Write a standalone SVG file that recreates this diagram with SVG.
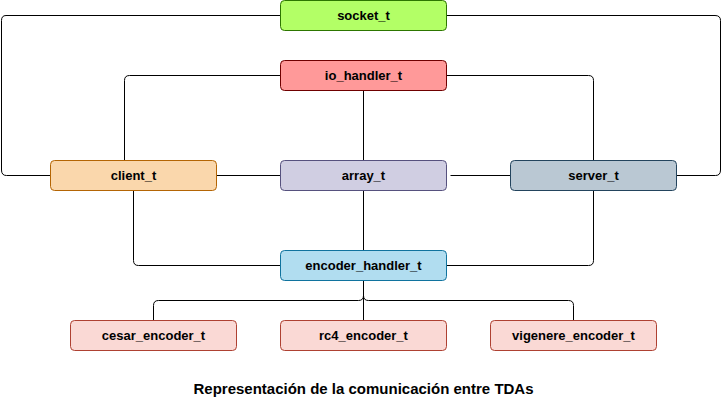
<svg xmlns="http://www.w3.org/2000/svg" width="722" height="411" viewBox="0 0 722 411">
<style>
.n rect{stroke-width:1}
.n text{font-family:"Liberation Sans",Arial,sans-serif;font-weight:bold;font-size:13px;text-anchor:middle;fill:#000}
#edges path{fill:none;stroke:#000;stroke-width:1}
.title{font-family:"Liberation Sans",Arial,sans-serif;font-weight:bold;font-size:15px;text-anchor:middle;fill:#000}
</style>
<rect width="722" height="411" fill="#fff"/>
<g id="edges">
<path d="M280.5,15.5 H6 Q1.5,15.5 1.5,20.5 V170 Q1.5,175.5 6.5,175.5 H50.5"/>
<path d="M446.5,15.5 H715 Q720.5,15.5 720.5,20.5 V170 Q720.5,175.5 715.5,175.5 H676.5"/>
<path d="M280.5,75.5 H129.5 Q124.5,75.5 124.5,80.5 V160.5"/>
<path d="M446.5,75.5 H588.5 Q593.5,75.5 593.5,80.5 V160.5"/>
<path d="M363.5,90.5 V160.5"/>
<path d="M216.5,175.5 H280.5"/>
<path d="M450.5,175.5 H510.5"/>
<path d="M133.5,190.5 V260.5 Q133.5,265.5 138.5,265.5 H280.5"/>
<path d="M593.5,190.5 V260.5 Q593.5,265.5 588.5,265.5 H446.5"/>
<path d="M363.5,190.5 V250.5"/>
<path d="M363.5,280.5 V320.5"/>
<path d="M363.5,280.5 V295.5 Q363.5,300.5 358.5,300.5 H158.5 Q153.5,300.5 153.5,305.5 V320.5"/>
<path d="M363.5,280.5 V295.5 Q363.5,300.5 368.5,300.5 H568.5 Q573.5,300.5 573.5,305.5 V320.5"/>
</g>
<g id="socket_t" class="n"><rect x="280.5" y="0.5" width="166" height="30" rx="4" fill="#B3FF66" stroke="#2D7600"/><text x="363.5" y="20">socket_t</text></g>
<g id="io_handler_t" class="n"><rect x="280.5" y="60.5" width="166" height="30" rx="4" fill="#FF9999" stroke="#6F0000"/><text x="363.5" y="80">io_handler_t</text></g>
<g id="client_t" class="n"><rect x="50.5" y="160.5" width="166" height="30" rx="4" fill="#FAD7AC" stroke="#B46504"/><text x="133.5" y="180">client_t</text></g>
<g id="array_t" class="n"><rect x="280.5" y="160.5" width="166" height="30" rx="4" fill="#D0CEE2" stroke="#56517E"/><text x="363.5" y="180">array_t</text></g>
<g id="server_t" class="n"><rect x="510.5" y="160.5" width="166" height="30" rx="4" fill="#BAC8D3" stroke="#23445D"/><text x="593.5" y="180">server_t</text></g>
<g id="encoder_handler_t" class="n"><rect x="280.5" y="250.5" width="166" height="30" rx="4" fill="#B1DDF0" stroke="#10739E"/><text x="363.5" y="270">encoder_handler_t</text></g>
<g id="cesar_encoder_t" class="n"><rect x="70.5" y="320.5" width="166" height="30" rx="4" fill="#FAD9D5" stroke="#AE4132"/><text x="153.5" y="340">cesar_encoder_t</text></g>
<g id="rc4_encoder_t" class="n"><rect x="280.5" y="320.5" width="166" height="30" rx="4" fill="#FAD9D5" stroke="#AE4132"/><text x="363.5" y="340">rc4_encoder_t</text></g>
<g id="vigenere_encoder_t" class="n"><rect x="490.5" y="320.5" width="166" height="30" rx="4" fill="#FAD9D5" stroke="#AE4132"/><text x="573.5" y="340">vigenere_encoder_t</text></g>
<text class="title" x="363.5" y="394">Representación de la comunicación entre TDAs</text>
</svg>
